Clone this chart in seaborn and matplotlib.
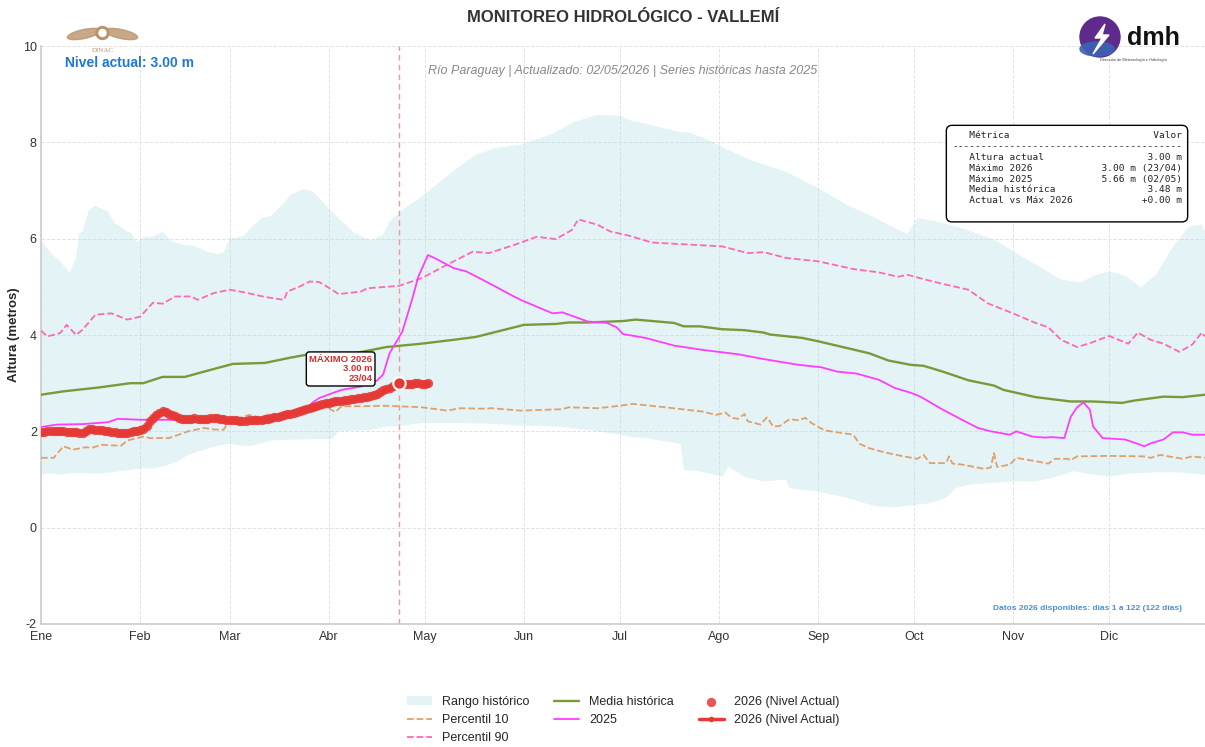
import numpy as np
import matplotlib
matplotlib.use("Agg")
import matplotlib.pyplot as plt
from matplotlib.patches import Ellipse, Circle, Polygon
import seaborn as sns

sns.set_style("whitegrid")
plt.rcParams["font.family"] = ["Liberation Sans", "DejaVu Sans"]
plt.rcParams["axes.unicode_minus"] = False

# ---- data (day of year -> metres) ----
month_days = [1, 32, 60, 91, 121, 152, 182, 213, 244, 274, 305, 335]
month_labels = ["Ene", "Feb", "Mar", "Abr", "May", "Jun",
                "Jul", "Ago", "Sep", "Oct", "Nov", "Dic"]

up_days = [1, 4, 7, 10, 12, 13, 14, 16, 18, 22, 24, 28, 29, 31, 33, 36, 39, 42, 46, 49,
           53, 56, 58, 60, 64, 67, 70, 73, 77, 79, 83, 86, 89, 92, 95, 99, 104, 108, 110, 114,
           120, 127, 132, 137, 143, 151, 160, 168, 175, 182, 185, 192, 200, 204, 211, 216, 223, 234, 244, 253,
           262, 267, 272, 275, 281, 289, 299, 307, 315, 320, 326, 331, 335, 340, 345, 350, 355, 360, 364, 365]
up_vals = [5.98, 5.70, 5.53, 5.29, 5.63, 6.12, 6.15, 6.60, 6.68, 6.56, 6.33, 6.15, 6.12, 5.92, 6.04, 6.04, 6.15, 5.94, 5.87, 5.85,
           5.73, 5.68, 5.70, 6.01, 6.04, 6.25, 6.43, 6.47, 6.74, 6.91, 7.03, 6.98, 6.77, 6.56, 6.36, 6.12, 5.96, 6.08, 6.36, 6.60,
           6.87, 7.25, 7.50, 7.74, 7.88, 7.95, 8.15, 8.43, 8.57, 8.55, 8.46, 8.36, 8.22, 8.20, 8.01, 7.84, 7.63, 7.39, 7.05, 6.70,
           6.43, 6.25, 6.10, 6.43, 6.36, 6.22, 5.98, 5.66, 5.35, 5.15, 5.09, 5.25, 5.32, 5.23, 4.99, 5.28, 5.84, 6.25, 6.29, 6.15]

low_days = [1, 4, 7, 10, 14, 18, 23, 29, 33, 35, 39, 44, 47, 52, 56, 60, 64, 67, 73, 81,
            92, 94, 104, 109, 114, 120, 130, 141, 151, 162, 172, 180, 185, 190, 201, 202, 207, 214, 216, 221,
            227, 234, 235, 244, 253, 262, 268, 273, 279, 284, 287, 291, 298, 306, 312, 318, 324, 328, 335, 341,
            350, 357, 365]
low_vals = [1.10, 1.13, 1.10, 1.13, 1.14, 1.12, 1.15, 1.20, 1.24, 1.22, 1.27, 1.38, 1.51, 1.62, 1.70, 1.74, 1.70, 1.70, 1.81, 1.83,
            1.84, 2.00, 2.03, 2.10, 2.12, 2.17, 2.17, 2.16, 2.12, 2.10, 2.03, 1.95, 1.89, 1.86, 1.74, 1.20, 1.17, 1.06, 1.27, 1.05,
            0.96, 1.00, 0.82, 0.75, 0.62, 0.44, 0.43, 0.46, 0.51, 0.62, 0.82, 0.89, 0.93, 0.96, 0.96, 1.05, 1.17, 1.12, 1.06, 1.12,
            1.15, 1.15, 1.10]

p90_days = [1, 3, 7, 9, 12, 14, 18, 23, 28, 32, 36, 39, 43, 48, 50, 55, 60, 65, 71, 77,
            78, 82, 85, 88, 92, 94, 101, 103, 113, 120, 128, 136, 141, 149, 156, 162, 167, 169, 175, 179,
            185, 192, 200, 214, 222, 227, 234, 244, 255, 263, 269, 272, 277, 283, 291, 297, 306, 312, 316, 320,
            325, 329, 335, 341, 344, 348, 352, 357, 361, 364, 365]
p90_vals = [4.09, 3.97, 4.04, 4.21, 4.00, 4.11, 4.42, 4.45, 4.32, 4.38, 4.67, 4.65, 4.80, 4.80, 4.73, 4.87, 4.94, 4.88, 4.79, 4.73,
            4.90, 5.01, 5.11, 5.10, 4.94, 4.85, 4.90, 4.97, 5.02, 5.18, 5.46, 5.73, 5.70, 5.87, 6.04, 5.99, 6.18, 6.40, 6.29, 6.15,
            6.06, 5.92, 5.89, 5.84, 5.70, 5.72, 5.60, 5.53, 5.37, 5.30, 5.21, 5.25, 5.16, 5.06, 4.94, 4.66, 4.42, 4.25, 4.16, 3.90,
            3.75, 3.83, 3.98, 3.82, 4.05, 3.90, 3.82, 3.65, 3.80, 4.05, 3.97]

p10_days = [1, 5, 8, 11, 15, 17, 20, 26, 28, 33, 35, 41, 47, 52, 55, 58, 60, 66, 70, 72,
            77, 82, 88, 91, 93, 95, 99, 109, 120, 128, 132, 139, 142, 151, 164, 166, 175, 182, 186, 196,
            208, 212, 215, 217, 219, 221, 222, 226, 228, 230, 232, 235, 238, 240, 242, 246, 255, 257, 260, 265,
            270, 275, 277, 279, 284, 285, 286, 289, 296, 298, 299, 300, 304, 306, 312, 316, 318, 322, 323, 325,
            335, 346, 348, 351, 358, 361, 365]
p10_vals = [1.45, 1.45, 1.69, 1.62, 1.67, 1.66, 1.72, 1.70, 1.81, 1.89, 1.86, 1.86, 2.00, 2.07, 2.04, 2.03, 2.21, 2.34, 2.28, 2.35,
            2.34, 2.41, 2.52, 2.48, 2.40, 2.52, 2.52, 2.53, 2.50, 2.43, 2.48, 2.47, 2.48, 2.43, 2.46, 2.50, 2.48, 2.53, 2.57, 2.50,
            2.41, 2.34, 2.39, 2.28, 2.26, 2.36, 2.21, 2.14, 2.29, 2.10, 2.11, 2.25, 2.23, 2.28, 2.17, 2.02, 1.93, 1.74, 1.65, 1.56,
            1.49, 1.43, 1.51, 1.34, 1.34, 1.48, 1.33, 1.31, 1.22, 1.25, 1.55, 1.26, 1.31, 1.45, 1.38, 1.33, 1.43, 1.43, 1.40, 1.48,
            1.49, 1.48, 1.45, 1.51, 1.43, 1.48, 1.45]

mean_days = [1, 8, 19, 29, 33, 39, 46, 52, 61, 71, 79, 84, 99, 109, 120, 130, 137, 146, 152, 162,
             166, 172, 183, 187, 199, 202, 207, 214, 221, 227, 229, 239, 244, 253, 260, 266, 273, 277, 283, 291,
             299, 302, 312, 323, 330, 339, 343, 352, 358, 365]
mean_vals = [2.76, 2.83, 2.91, 3.00, 3.00, 3.13, 3.13, 3.24, 3.40, 3.42, 3.53, 3.59, 3.62, 3.75, 3.82, 3.90, 3.96, 4.11, 4.21, 4.23,
             4.26, 4.26, 4.29, 4.32, 4.25, 4.18, 4.18, 4.12, 4.10, 4.05, 4.01, 3.94, 3.87, 3.73, 3.62, 3.47, 3.38, 3.36, 3.24, 3.06,
             2.95, 2.86, 2.71, 2.62, 2.62, 2.59, 2.64, 2.72, 2.71, 2.76]

y2025_days = [1, 6, 14, 22, 25, 32, 39, 44, 60, 70, 78, 84, 86, 88, 92, 95, 101, 106, 108, 110,
              114, 117, 119, 122, 124, 126, 130, 134, 139, 143, 148, 151, 157, 161, 164, 172, 178, 181, 183, 190,
              199, 208, 219, 227, 238, 245, 250, 256, 263, 268, 273, 276, 283, 289, 294, 298, 304, 306, 311, 315,
              317, 321, 323, 325, 327, 329, 330, 333, 340, 344, 346, 348, 352, 355, 358, 361, 365]
y2025_vals = [2.09, 2.14, 2.15, 2.19, 2.26, 2.24, 2.24, 2.24, 2.26, 2.27, 2.36, 2.47, 2.60, 2.69, 2.79, 2.86, 2.93, 3.05, 3.18, 3.62,
              4.07, 4.73, 5.21, 5.66, 5.60, 5.53, 5.39, 5.32, 5.15, 5.01, 4.83, 4.73, 4.56, 4.45, 4.47, 4.28, 4.25, 4.16, 4.02, 3.94,
              3.78, 3.69, 3.60, 3.50, 3.38, 3.33, 3.24, 3.20, 3.07, 2.90, 2.80, 2.72, 2.45, 2.24, 2.07, 2.00, 1.93, 2.00, 1.89, 1.87,
              1.88, 1.86, 2.30, 2.50, 2.60, 2.45, 2.10, 1.86, 1.83, 1.74, 1.69, 1.75, 1.83, 1.98, 1.98, 1.93, 1.93]

# 2026 daily levels, days 1..122
y2026_vals = [1.98, 1.99, 2.00, 2.00, 2.00, 2.00, 2.00, 2.00, 1.99, 1.99,
              1.98, 1.98, 1.97, 1.96, 2.00, 2.05, 2.04, 2.03, 2.02, 2.02,
              2.01, 2.00, 1.99, 1.98, 1.97, 1.97, 1.96, 1.97, 1.98, 2.00,
              2.01, 2.02, 2.05, 2.12, 2.21, 2.28, 2.34, 2.38, 2.43, 2.40,
              2.37, 2.34, 2.31, 2.28, 2.26, 2.26, 2.25, 2.26, 2.27, 2.26,
              2.25, 2.25, 2.26, 2.27, 2.28, 2.27, 2.26, 2.25, 2.24, 2.23,
              2.23, 2.23, 2.22, 2.22, 2.22, 2.23, 2.23, 2.23, 2.24, 2.24,
              2.25, 2.26, 2.28, 2.29, 2.30, 2.32, 2.34, 2.35, 2.37, 2.39,
              2.41, 2.42, 2.45, 2.47, 2.49, 2.51, 2.53, 2.55, 2.56, 2.58,
              2.59, 2.60, 2.62, 2.63, 2.64, 2.65, 2.66, 2.67, 2.68, 2.69,
              2.70, 2.71, 2.72, 2.73, 2.75, 2.78, 2.81, 2.85, 2.88, 2.91,
              2.94, 2.97, 3.00, 2.99, 2.99, 2.99, 2.99, 3.00, 3.00, 2.99,
              2.99, 3.00]
y2026_days = list(range(1, len(y2026_vals) + 1))

RED = "#e53935"

fig = plt.figure(figsize=(12.05, 7.47), dpi=100)
ax = fig.add_axes([41 / 1205, 123 / 747, 1164 / 1205, 578 / 747])

# historic range band
ax.fill(np.r_[up_days, low_days[::-1]], np.r_[up_vals, low_vals[::-1]],
        color="#b2dfe6", alpha=0.35, lw=0, label="Rango histórico", zorder=1)

sns.lineplot(x=p10_days, y=p10_vals, ax=ax, color="#e0a06c", lw=1.3, linestyle="--",
             label="Percentil 10", estimator=None, sort=False, zorder=3)
sns.lineplot(x=p90_days, y=p90_vals, ax=ax, color="#ff69b4", lw=1.3, linestyle="--",
             label="Percentil 90", estimator=None, sort=False, zorder=3)
sns.lineplot(x=mean_days, y=mean_vals, ax=ax, color="#7a9a3a", lw=1.7,
             label="Media histórica", estimator=None, sort=False, zorder=3)
sns.lineplot(x=y2025_days, y=y2025_vals, ax=ax, color="#ff3dff", lw=1.3,
             label="2025", estimator=None, sort=False, zorder=4)
sns.scatterplot(x=y2026_days, y=y2026_vals, ax=ax, color=RED, s=45, alpha=0.85,
                linewidth=0, label="2026 (Nivel Actual)", zorder=5)
sns.lineplot(x=y2026_days, y=y2026_vals, ax=ax, color=RED, lw=2.5, marker="o",
             markersize=4, markeredgewidth=0, label="2026 (Nivel Actual)",
             estimator=None, sort=False, zorder=6)

# maximum 2026
imax = int(np.argmax(y2026_vals))
dmax, vmax = y2026_days[imax], y2026_vals[imax]
ax.axvline(dmax, color="#ef9a9a", lw=1, ls=(0, (4, 3)), zorder=2)
ax.scatter([dmax], [vmax], s=80, color=RED, edgecolor="white", linewidth=1.5, zorder=10)
ax.annotate("MÁXIMO 2026\n3.00 m\n23/04", xy=(dmax, vmax), xytext=(-27, 0),
            textcoords="offset pixels", ha="right", va="bottom", fontsize=6.8,
            fontweight="bold", color="#d32f2f", linespacing=1.1,
            bbox=dict(boxstyle="round,pad=0.3", fc="white", ec="black", lw=1), zorder=11)

ax.set_xlim(1, 365)
ax.set_ylim(-2, 10)
ax.set_xticks(month_days)
ax.set_xticklabels(month_labels)
ax.set_yticks([-2, 0, 2, 4, 6, 8, 10])
ax.tick_params(labelsize=9, length=0, colors="#333333")
ax.tick_params(axis="y", pad=3)
ax.tick_params(axis="x", pad=5)
ax.set_xlabel("")
ax.set_ylabel("Altura (metros)", fontsize=9.5, fontweight="bold", labelpad=2)
ax.grid(True, linestyle="--", color="#e3e3e3", lw=0.7)
ax.set_axisbelow(True)
for s in ["top", "right"]:
    ax.spines[s].set_visible(False)
for s in ["left", "bottom"]:
    ax.spines[s].set_color("#cccccc")
    ax.spines[s].set_linewidth(1.2)

# texts
fig.text(0.5174, 1 - 18 / 747, "MONITOREO HIDROLÓGICO - VALLEMÍ", ha="center", va="center",
         fontsize=12, fontweight="bold", color="#333333")
ax.text(0.5, 0.957, "Río Paraguay | Actualizado: 02/05/2026 | Series históricas hasta 2025",
        transform=ax.transAxes, ha="center", va="center", fontsize=9, style="italic", color="#888888")
ax.text(0.0206, 0.971, "Nivel actual: 3.00 m", transform=ax.transAxes, ha="left", va="center",
        fontsize=10, fontweight="bold", color="#1e78d6")

rows = [("Altura actual", "3.00 m"), ("Máximo 2026", "3.00 m (23/04)"),
        ("Máximo 2025", "5.66 m (02/05)"), ("Media histórica", "3.48 m"),
        ("Actual vs Máx 2026", "+0.00 m")]
table = "   {:<20}{:>17}\n".format("Métrica", "Valor") + "-" * 40 + "\n"
table += "\n".join("   {:<20}{:>17}".format(a, b) for a, b in rows) + "\n "
ax.text((1182 - 41) / 1164, (624 - 131) / 578, table, transform=ax.transAxes, ha="right", va="top",
        family="DejaVu Sans Mono", fontsize=6.8, linespacing=1.27, color="#222222",
        bbox=dict(boxstyle="round,pad=0.6", fc="white", ec="black", lw=1), zorder=12)

ax.text((1182 - 41) / 1164, (624 - 609) / 578, "Datos 2026 disponibles: días 1 a 122 (122 días)",
        transform=ax.transAxes, ha="right", va="center", fontsize=6, fontweight="bold", color="#4a90d9")

# legend
handles, labels = ax.get_legend_handles_labels()
ax.legend(handles, labels, loc="upper center", bbox_to_anchor=(0.5, -0.105), ncol=3,
          frameon=False, fontsize=9)

# simple logo marks
lg = fig.add_axes([60 / 1205, 1 - 55 / 747, 85 / 1205, 32 / 747])
lg.set_xlim(0, 85)
lg.set_ylim(0, 32)
lg.axis("off")
tan = "#b9936c"
lg.add_patch(Ellipse((24, 21), 34, 9, angle=12, color=tan, alpha=0.8))
lg.add_patch(Ellipse((61, 21), 34, 9, angle=-12, color=tan, alpha=0.8))
lg.add_patch(Circle((42.5, 22), 6.5, color=tan))
lg.add_patch(Circle((42.5, 22), 3.5, color="white"))
lg.text(42.5, 5, "DINAC", ha="center", va="center", fontsize=5, color=tan, family="Liberation Serif")

dm = fig.add_axes([1075 / 1205, 1 - 66 / 747, 110 / 1205, 50 / 747])
dm.set_xlim(0, 110)
dm.set_ylim(0, 50)
dm.axis("off")
dm.add_patch(Circle((25, 29), 20, color="#5e2a8c"))
dm.add_patch(Ellipse((22, 17), 34, 14, color="#3b63b5", alpha=0.9))
dm.add_patch(Polygon([[30, 42], [20, 28], [27, 28], [18, 12], [34, 31], [27, 31]], color="white"))
dm.text(52, 28, "dmh", ha="left", va="center", fontsize=18, fontweight="bold", color="#111111")
dm.text(25, 6, "Dirección de Meteorología e Hidrología", ha="left", va="center",
        fontsize=2.8, color="#444444")

fig.savefig("out.png", dpi=100)
plt.close(fig)
